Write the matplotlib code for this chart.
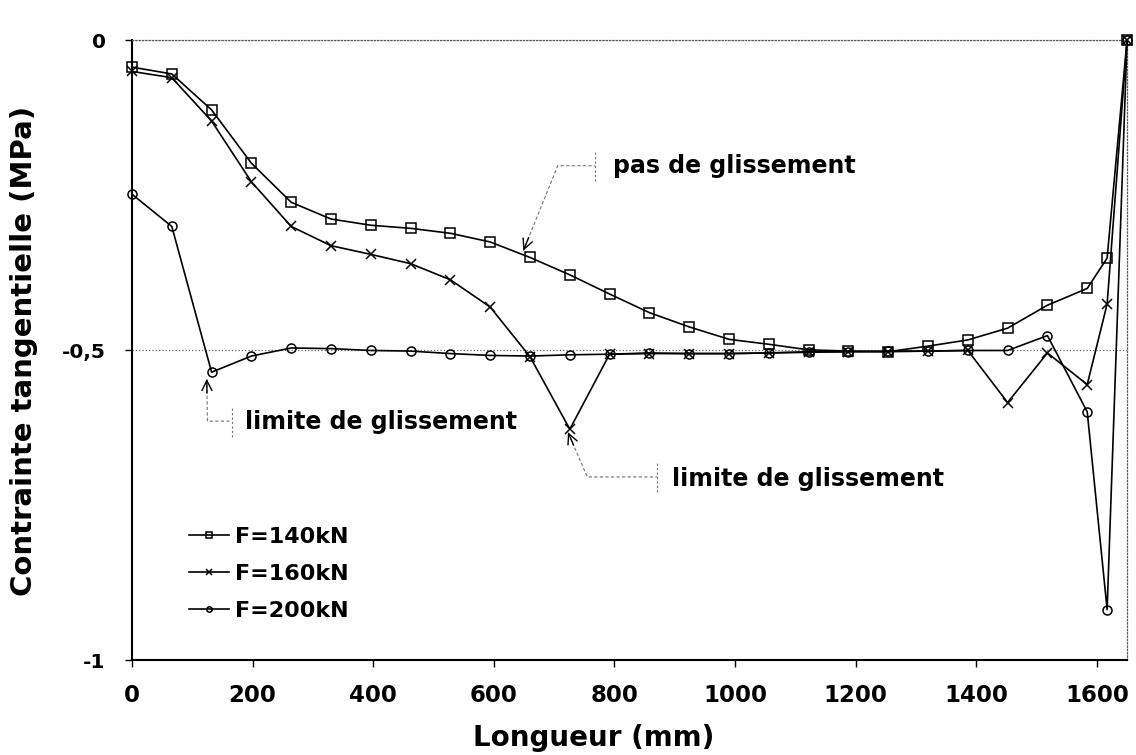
import matplotlib.pyplot as plt
import numpy as np

plt.rcParams['font.family'] = 'DejaVu Sans'
plt.rcParams['font.weight'] = 'bold'

# positions le long de la poutre (mm)
x_pos = [0, 66, 132, 198, 264, 330, 396, 462, 528, 594, 660, 726, 792, 858,
         924, 990, 1056, 1122, 1188, 1254, 1320, 1386, 1452, 1518, 1584, 1617, 1650]

f140 = [-0.043, -0.054, -0.112, -0.198, -0.261, -0.288, -0.298, -0.303, -0.311,
        -0.325, -0.350, -0.378, -0.409, -0.439, -0.462, -0.482, -0.490, -0.499,
        -0.501, -0.502, -0.493, -0.483, -0.464, -0.427, -0.400, -0.351, 0.0]
f160 = [-0.050, -0.060, -0.130, -0.228, -0.300, -0.331, -0.345, -0.360, -0.386,
        -0.430, -0.510, -0.627, -0.506, -0.505, -0.505, -0.505, -0.504, -0.503,
        -0.502, -0.502, -0.501, -0.500, -0.584, -0.504, -0.555, -0.425, 0.0]
f200 = [-0.248, -0.300, -0.535, -0.509, -0.496, -0.497, -0.500, -0.501, -0.505,
        -0.508, -0.509, -0.507, -0.506, -0.504, -0.505, -0.505, -0.504, -0.502,
        -0.502, -0.501, -0.501, -0.500, -0.500, -0.476, -0.599, -0.918, 0.0]

labels = ["F=140kN", "F=160kN", "F=200kN"]
markers = ["s", "x", "o"]

x_ticks = [0, 200, 400, 600, 800, 1000, 1200, 1400, 1600]
y_ticks = [-1, -0.5, 0]
y_tick_labels = ["-1", "-0,5", "0"]

# texte, pointe de fleche, coude, barre, position du texte
callouts = [
    ("pas de glissement", (649, -0.339), (706, -0.202), 768, (798, -0.202)),
    ("limite de glissement", (124, -0.546), (125, -0.614), 166, (188, -0.615)),
    ("limite de glissement", (723, -0.632), (755, -0.704), 871, (896, -0.707)),
]

fig = plt.figure(figsize=(11.36, 7.55), dpi=100)
ax = fig.add_axes([0.1162, 0.1252, 0.8759, 0.8212])

for ys, lab, m in zip([f140, f160, f200], labels, markers):
    ax.plot(x_pos, ys, color='black', lw=1.2, marker=m, ms=6.5, mfc='none',
            mec='black', mew=1.1, label=lab, clip_on=False, zorder=3)

ax.set_xlim(0, 1650)
ax.set_ylim(-1, 0)
ax.set_xticks(x_ticks)
ax.set_yticks(y_ticks)
ax.set_yticklabels(y_tick_labels)
ax.tick_params(axis='x', direction='out', length=5, width=1, labelsize=16.5, pad=12)
ax.tick_params(axis='y', direction='out', length=5, width=1, labelsize=14.5, pad=14)

ax.yaxis.grid(True, linestyle=':', color='0.4', lw=0.9)
for s in ['left', 'bottom']:
    ax.spines[s].set_linewidth(1.5)
for s in ['top', 'right']:
    ax.spines[s].set_linestyle(':')
    ax.spines[s].set_color('0.35')
    ax.spines[s].set_linewidth(0.9)

ax.set_xlabel("Longueur (mm)", fontsize=20, fontweight='bold')
ax.xaxis.set_label_coords(0.464, -0.102)
ax.set_ylabel("Contrainte tangentielle (MPa)", fontsize=21, fontweight='bold')
ax.yaxis.set_label_coords(-0.094, 0.5)

# bulles d'annotation
for txt, tip, corner, bar_x, tpos in callouts:
    ax.plot([tip[0], corner[0], bar_x], [tip[1], corner[1], corner[1]],
            ls=(0, (3, 2)), color='0.45', lw=0.8, zorder=2)
    ax.plot([bar_x, bar_x], [corner[1] - 0.025, corner[1] + 0.025],
            ls=(0, (2, 2)), color='0.45', lw=0.8, zorder=2)
    ax.text(tpos[0], tpos[1], txt, fontsize=17, fontweight='bold',
            ha='left', va='center')
    p0 = ax.transData.transform(tip)
    p1 = ax.transData.transform(corner)
    d = (p1 - p0) / np.hypot(*(p1 - p0))
    off = d * 14 * 72 / 100
    ax.annotate('', xy=tip, xytext=(off[0], off[1]), textcoords='offset points',
                arrowprops=dict(arrowstyle='->', color='black', lw=1.0,
                                mutation_scale=18, shrinkA=0, shrinkB=0))

ax.legend(loc='upper left', bbox_to_anchor=(0.057, 0.215), frameon=False,
          fontsize=16, handlelength=1.8, handletextpad=0.3, labelspacing=0.75,
          borderpad=0, borderaxespad=0, markerscale=0.6)

fig.savefig("out.png", dpi=100)
